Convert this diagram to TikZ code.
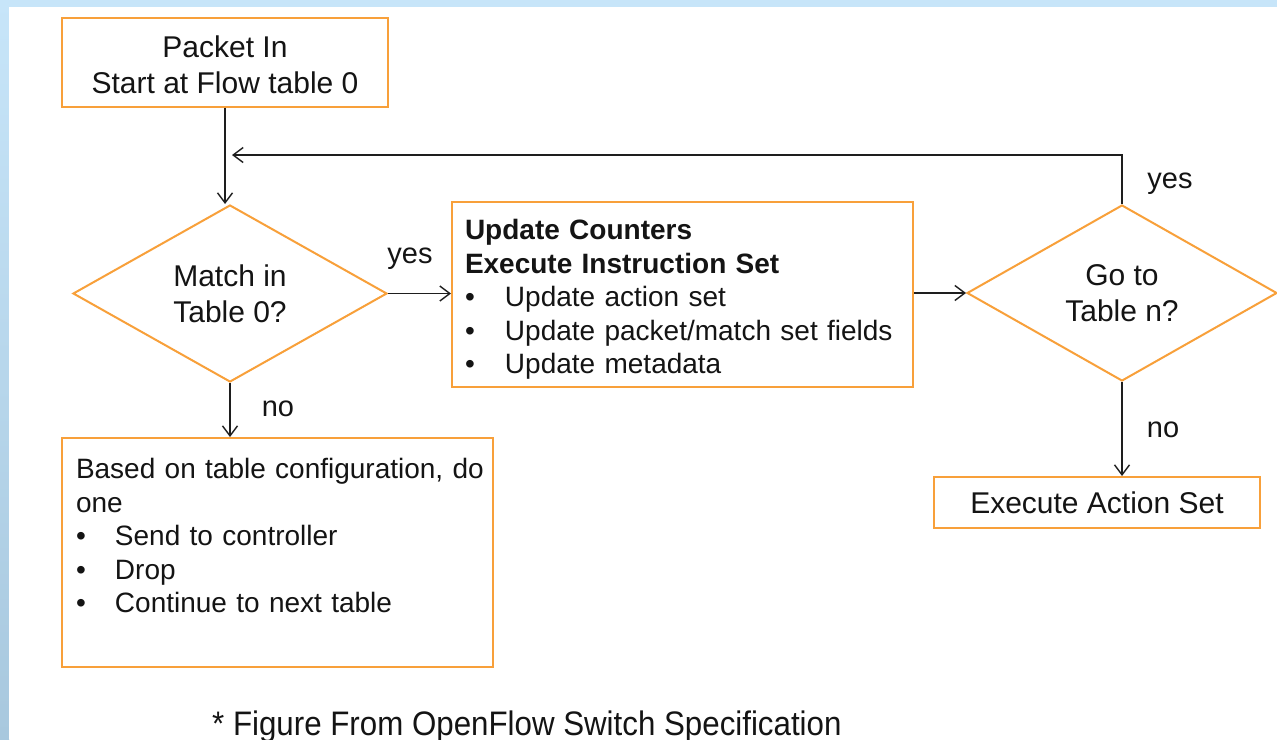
\documentclass[tikz,border=0pt]{standalone}
\usepackage{fontspec}
\setmainfont{Liberation Sans}
\newfontfamily\narrowfont[FakeStretch=0.92]{Liberation Sans}
\usetikzlibrary{shapes.geometric,arrows.meta}
\definecolor{obox}{RGB}{248,160,58}
\definecolor{bgblue}{RGB}{199,229,249}
\definecolor{bgbluedark}{RGB}{168,200,222}
\definecolor{txt}{RGB}{20,20,20}
\definecolor{arrc}{RGB}{30,30,30}
\begin{document}
\begin{tikzpicture}[x=1pt,y=-1pt,
  box/.style={draw=obox, line width=2pt, rectangle, inner sep=0pt, text=txt},
  dia/.style={draw=obox, line width=2pt, diamond, aspect=1.78, inner sep=0pt, minimum width=314pt, minimum height=177pt, align=center, text=txt, font=\fontsize{30}{36}\selectfont},
  arr/.style={draw=arrc, line width=1.4pt, -{Straight Barb[length=10pt,width=15pt,line width=1.4pt]}},
  lbl/.style={text=txt, font=\fontsize{29}{34}\selectfont, inner sep=0pt, anchor=base},
  big/.style={font=\fontsize{30}{36}\selectfont},
  small/.style={font=\fontsize{28}{33.5}\selectfont}
]
\useasboundingbox (0,0) rectangle (1277,739);
\fill[bgblue] (0,0) rectangle (1277,7);
\shade[top color=bgblue, bottom color=bgbluedark] (0,0) rectangle (9,739);
\fill[white] (9,7) rectangle (1277,739);

\node[box, minimum width=326pt, minimum height=89pt, align=center, big] (start) at (225,62) {\rule{0pt}{28pt}Packet In\\Start at Flow table 0};
\node[dia] (d1) at (230,293.5) {Match in\\Table 0?};
\node[box, minimum width=461pt, minimum height=185pt, text width=435pt, align=left, small, inner xsep=13pt] (upd) at (682.5,294.5) {\rule{0pt}{30pt}\textbf{Update Counters}\\
\textbf{Execute Instruction Set}\\
\makebox[40pt][l]{\textbullet}Update action set\\
\makebox[40pt][l]{\textbullet}Update packet/match set fields\\
\makebox[40pt][l]{\textbullet}Update metadata};
\node[dia, minimum width=310pt, minimum height=176pt] (d2) at (1122,293) {Go to\\Table n?};
\node[box, minimum width=326pt, minimum height=51pt, big] (exec) at (1097,502.5) {Execute Action Set};
\node[box, minimum width=431pt, minimum height=229pt, text width=403pt, align=left, inner xsep=14pt, small] (miss) at (277.5,552.5) {\mbox{Based on table configuration, do}\\
one\\
\makebox[39pt][l]{\textbullet}Send to controller\\
\makebox[39pt][l]{\textbullet}Drop\\
\makebox[39pt][l]{\textbullet}Continue to next table\\
\mbox{}};

\node[lbl] (y1) at (410,263) {yes};
\node[lbl] (y2) at (1170,188) {yes};
\node[lbl] (n1) at (278,416) {no};
\node[lbl] (n2) at (1163,437) {no};

\node[text=txt, font=\narrowfont\fontsize{34}{40}\selectfont, anchor=base west, inner sep=0pt] (note) at (212,735) {* Figure From OpenFlow Switch Specification};

\coordinate (loopend) at (232,155);
\draw[arr] (start.south) -- (start.south |- d1.north);
\draw[arr] (d2.north) |- (loopend);
\draw[arr] (d1.east) -- (d1.east -| upd.west);
\draw[arr] (upd.east |- d2.west) -- (d2.west);
\draw[arr] (d1.south) -- (d1.south |- miss.north);
\draw[arr] (d2.south) -- (d2.south |- exec.north);
\end{tikzpicture}
\end{document}
